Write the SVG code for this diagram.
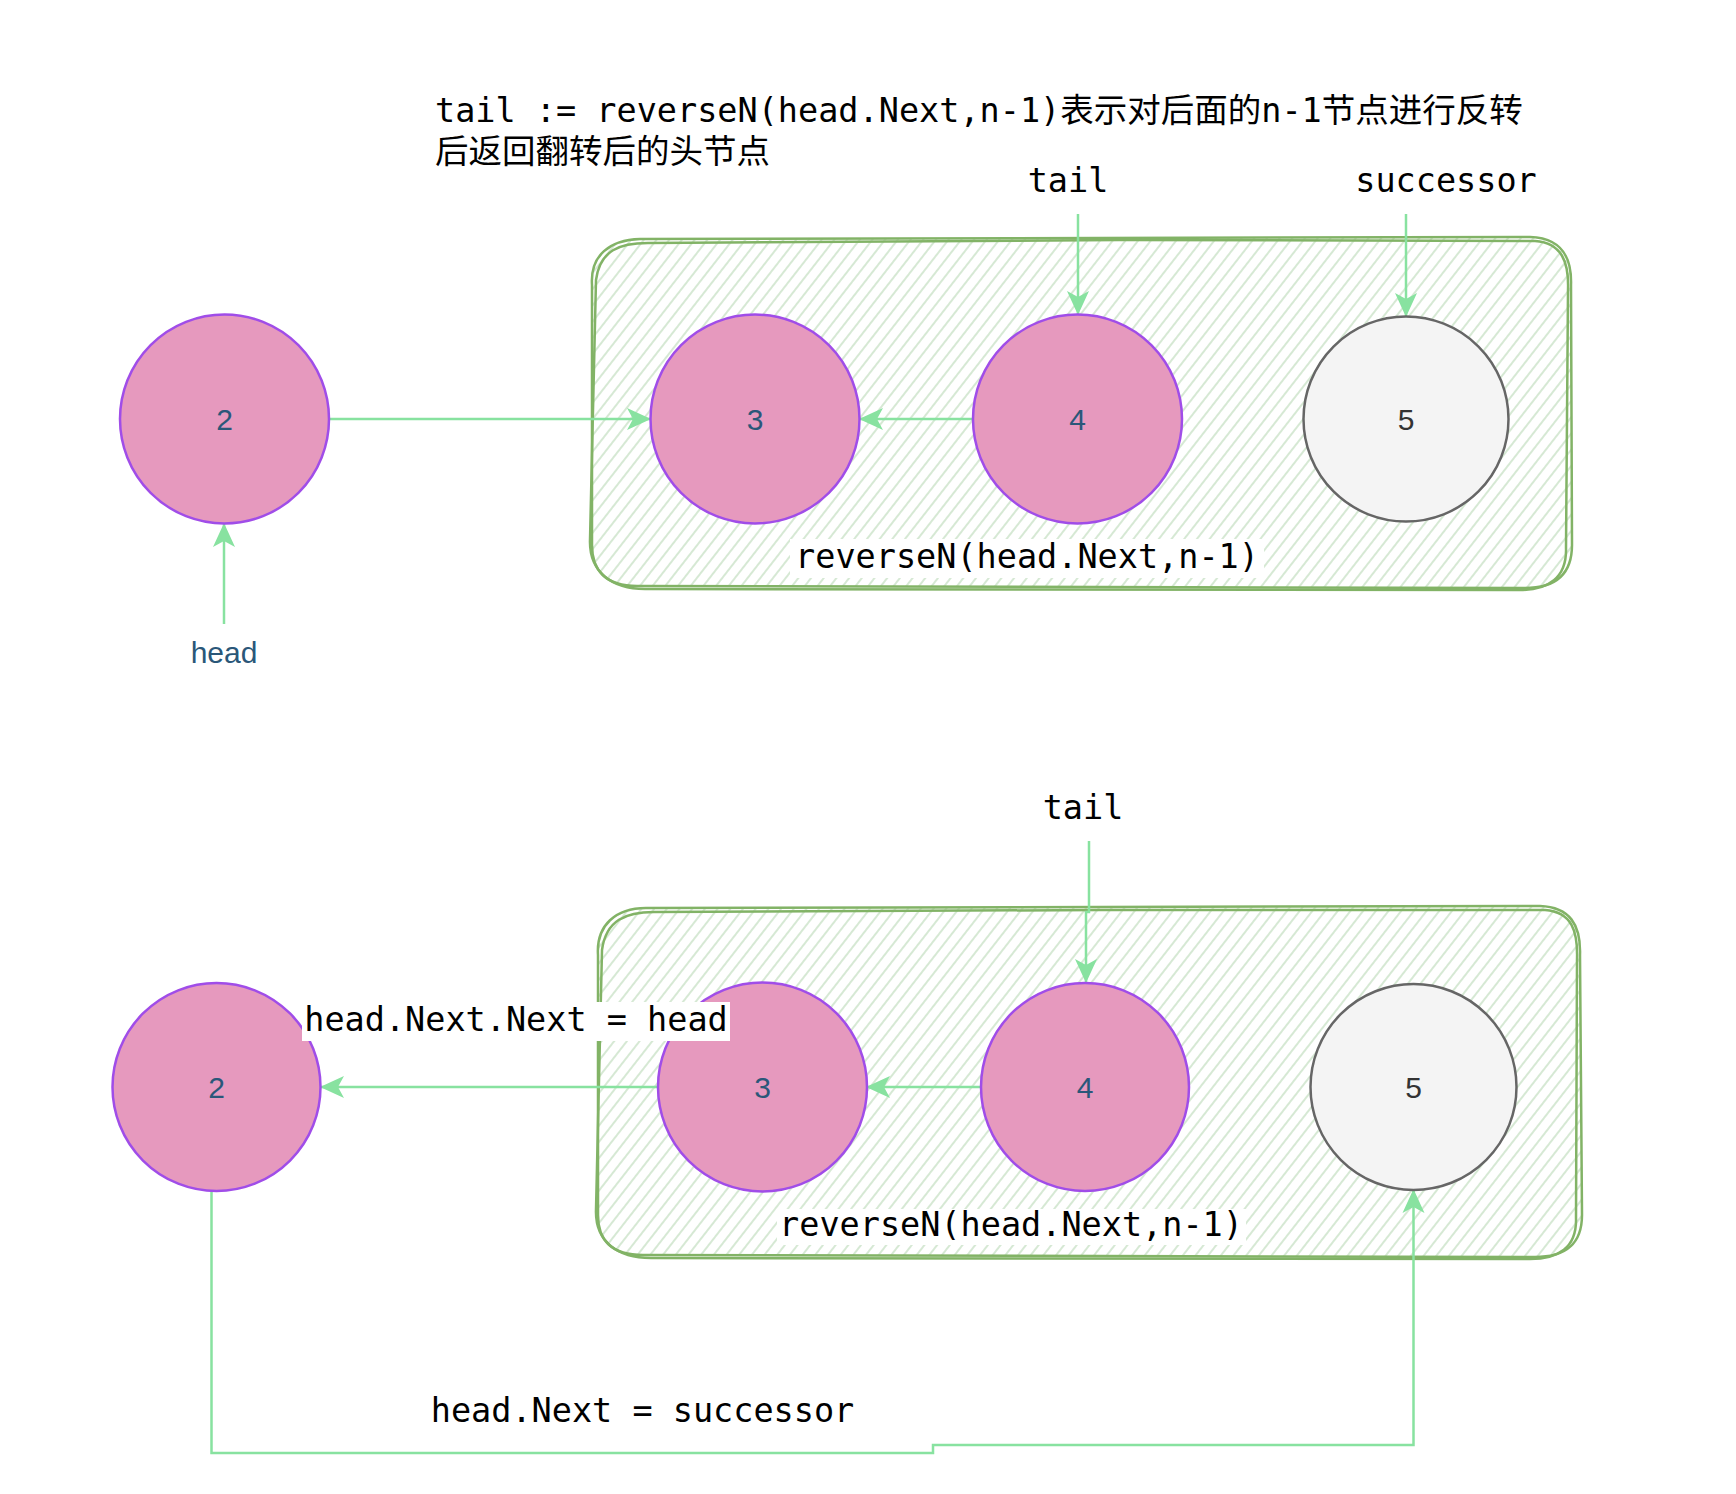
<svg xmlns="http://www.w3.org/2000/svg" width="1736" height="1494" viewBox="0 0 1736 1494">
<style>
.mono{font-family:"DejaVu Sans Mono","Noto Sans CJK SC",monospace;font-size:33.5px;fill:#000}
.lbl{font-family:"Liberation Sans",Arial,sans-serif;font-size:30px;fill:#2a5779;text-anchor:middle}
.pink{fill:#e699be;stroke:#a04de8;stroke-width:2.5}
.grey{fill:#f4f4f4;stroke:#666666;stroke-width:2.5}
.edge{fill:none;stroke:#88e2a0;stroke-width:2.5}
.arr{marker-end:url(#arr)}
.box{fill:none;stroke:#82b366;stroke-width:2.5;stroke-linejoin:round}
.bg{fill:#ffffff}
</style>
<defs>
<pattern id="hatch" patternUnits="userSpaceOnUse" width="10" height="20" patternTransform="rotate(38)">
<line x1="5" y1="0" x2="5" y2="20" stroke="#cce3c9" stroke-width="1.6"/>
</pattern>
<marker id="arr" markerUnits="userSpaceOnUse" markerWidth="26" markerHeight="26" viewBox="0 0 26 26" refX="24" refY="13" orient="auto">
<path d="M1,2 L25,13 L1,24 L7,13 Z" fill="#88e2a0"/>
</marker>
</defs>

<g id="title">
<text class="mono" x="435" y="122">tail := reverseN(head.Next,n-1)表示对后面的n-1节点进行反转</text>
<text class="mono" x="435" y="163">后返回翻转后的头节点</text>
</g>

<g id="box-top">
<path d="M592,285 C590,255 610,240 640,239 L1530,237 C1560,238 1572,255 1571,285 L1572,545 C1572,575 1555,588 1525,588 L640,586 C605,587 592,570 592,545 Z" fill="url(#hatch)" stroke="none"/>
<path class="box" d="M592,285 C590,255 610,240 640,239 L1530,237 C1560,238 1572,255 1571,285 L1572,545 C1572,575 1555,588 1525,588 L640,586 C605,587 592,570 592,545 Z"/>
<path class="box" d="M596,280 C600,250 620,243 648,243 L1120,240 L1535,241 C1562,243 1569,262 1568,290 L1566,548 C1567,578 1548,590 1520,590 L645,589 C612,589 589,572 590,540 Z"/>
</g>

<g id="box-bottom">
<path d="M598,955 C596,925 616,908 646,908 L1540,906 C1570,907 1581,925 1580,955 L1582,1215 C1582,1245 1565,1257 1535,1257 L646,1255 C611,1256 598,1240 598,1215 Z" fill="url(#hatch)" stroke="none"/>
<path class="box" d="M598,955 C596,925 616,908 646,908 L1540,906 C1570,907 1581,925 1580,955 L1582,1215 C1582,1245 1565,1257 1535,1257 L646,1255 C611,1256 598,1240 598,1215 Z"/>
<path class="box" d="M602,950 C606,920 626,912 654,912 L1100,910 L1545,910 C1572,912 1578,931 1577,960 L1576,1218 C1577,1248 1558,1259 1530,1259 L651,1258 C618,1258 595,1242 596,1210 Z"/>
</g>

<g id="connectors">
<path class="edge arr" d="M329,419 L650,419"/>
<path class="edge arr" d="M973,419 L860,419"/>
<path class="edge arr" d="M1078,214 L1078,314"/>
<path class="edge arr" d="M1406,214 L1406,316"/>
<path class="edge arr" d="M224,624 L224,524"/>
<path class="edge arr" d="M658,1087 L321,1087"/>
<path class="edge arr" d="M981,1087 L867,1087"/>
<path class="edge arr" d="M1089,841 L1089,912 L1086,912 L1086,982"/>
<path class="edge arr" d="M211.5,1191 L211.5,1453 L933,1453 L933,1445 L1413.5,1445 L1413.5,1190"/>
</g>

<g id="top-n2"><circle class="pink" cx="224.5" cy="419" r="104.5"/><text class="lbl" x="224.5" y="430">2</text></g>
<g id="top-n3"><circle class="pink" cx="755" cy="419" r="104.5"/><text class="lbl" x="755" y="430">3</text></g>
<g id="top-n4"><circle class="pink" cx="1077.5" cy="419" r="104.5"/><text class="lbl" x="1077.5" y="430">4</text></g>
<g id="top-n5"><circle class="grey" cx="1406" cy="419" r="102.5"/><text class="lbl" x="1406" y="430" style="fill:#333333">5</text></g>

<g id="bot-n2"><circle class="pink" cx="216.5" cy="1087" r="104"/><text class="lbl" x="216.5" y="1098">2</text></g>
<g id="bot-n3"><circle class="pink" cx="762.5" cy="1087" r="104.5"/><text class="lbl" x="762.5" y="1098">3</text></g>
<g id="bot-n4"><circle class="pink" cx="1085" cy="1087" r="104"/><text class="lbl" x="1085" y="1098">4</text></g>
<g id="bot-n5"><circle class="grey" cx="1413.5" cy="1087" r="103"/><text class="lbl" x="1413.5" y="1098" style="fill:#333333">5</text></g>

<g id="labels">
<text class="lbl" x="224" y="663">head</text>
<text class="mono" x="1068" y="192" text-anchor="middle">tail</text>
<text class="mono" x="1446" y="192" text-anchor="middle">successor</text>
<rect class="bg" x="790" y="539" width="474" height="39"/>
<text class="mono" x="1027" y="568" text-anchor="middle">reverseN(head.Next,n-1)</text>
<text class="mono" x="1083" y="819" text-anchor="middle">tail</text>
<rect class="bg" x="302" y="1002" width="428" height="39"/>
<text class="mono" x="516" y="1031" text-anchor="middle">head.Next.Next = head</text>
<rect class="bg" x="777" y="1209" width="469" height="36"/>
<text class="mono" x="1011" y="1236" text-anchor="middle">reverseN(head.Next,n-1)</text>
<text class="mono" x="642.5" y="1422" text-anchor="middle">head.Next = successor</text>
</g>
</svg>
